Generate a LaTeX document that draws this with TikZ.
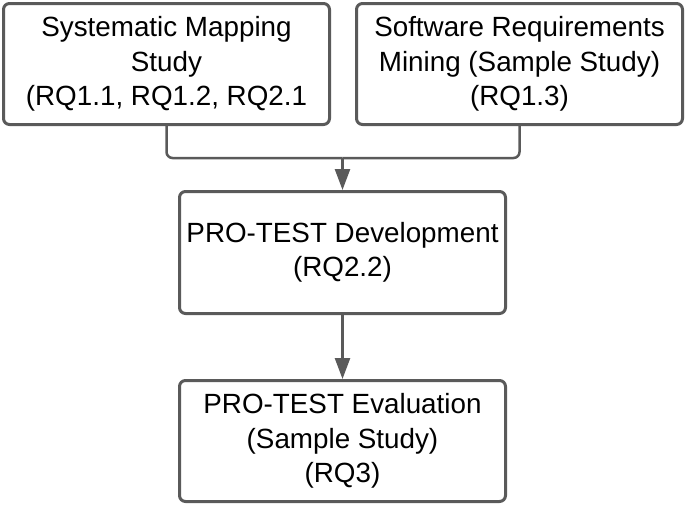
\documentclass[tikz,border=0pt]{standalone}
\usepackage{fontspec}
\setmainfont{Liberation Sans}
\usetikzlibrary{arrows.meta}
\definecolor{edge}{HTML}{5A5A5A}
\begin{document}
\begin{tikzpicture}[x=1pt,y=-1pt,
  box/.style={draw=edge, line width=3pt, rounded corners=6pt, fill=white,
    minimum width=326pt, minimum height=121pt, align=center, inner sep=0pt,
    font=\fontsize{27.8}{34.5}\selectfont, text=black},
  conn/.style={draw=edge, line width=2.5pt, rounded corners=6pt},
  arr/.style={conn, -{Triangle[length=21pt,width=15pt]}}]
\useasboundingbox (0,0) rectangle (685,506);
\node[box] (b1) at (166.5,64) {Systematic Mapping\\Study\\(RQ1.1, RQ1.2, RQ2.1};
\node[box] (b2) at (519.5,64) {Software Requirements\\Mining (Sample Study)\\(RQ1.3)};
\node[box, minimum height=122pt] (b3) at (342.5,252.5) {PRO-TEST Development\\(RQ2.2)};
\node[box] (b4) at (342.5,441) {PRO-TEST Evaluation\\(Sample Study)\\(RQ3)};
\coordinate (m) at (342.5,158);
\draw[conn] (b1.south) |- (m);
\draw[conn] (b2.south) |- (m);
\draw[arr] (m) -- (b3.north);
\draw[arr] (b3.south) -- (b4.north);
\end{tikzpicture}
\end{document}
